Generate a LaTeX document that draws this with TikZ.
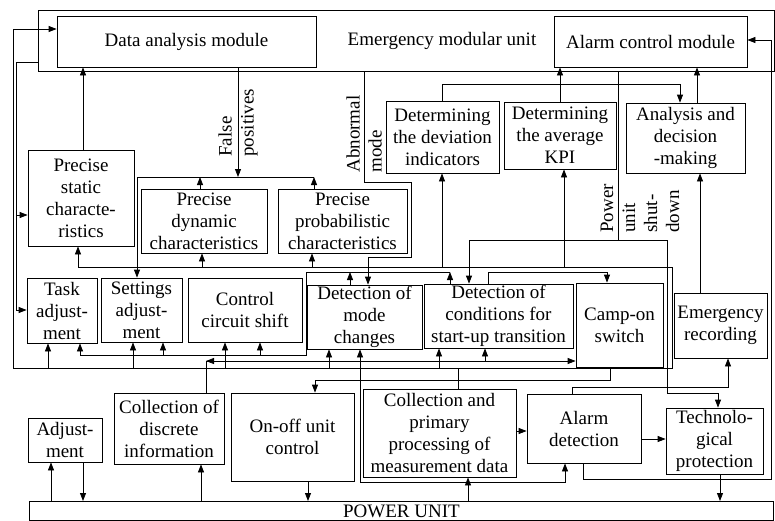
\documentclass[tikz,border=0pt]{standalone}
\usepackage{fontspec}
\setmainfont{Liberation Serif}
\usetikzlibrary{arrows.meta}

\tikzset{
	blk/.style={draw, align=center, inner sep=1pt, font=\fontsize{19}{22}\selectfont},
	txt/.style={inner sep=0pt, font=\fontsize{19}{22}\selectfont},
	rlbl/.style={txt, align=left, rotate=90, anchor=west},
	arr/.style={-{Triangle[length=8pt,width=6pt]}},
}

\begin{document}
\begin{tikzpicture}[x=1pt, y=-1pt, line width=0.8pt]
	\useasboundingbox (0,0) rectangle (775,520);
	\clip (0,0) rectangle (775,520);
	
	% emergency modular unit
	\node[draw, inner sep=0pt, minimum width=736, minimum height=61, anchor=north west] (emu) at (38,10) {};
	\node[blk, minimum width=259, minimum height=51] (dam) at (186.5,41.5) {Data analysis module};
	\node[txt] (emulbl) at (442,41) {Emergency modular unit};
	\node[blk, minimum width=193, minimum height=51] (acm) at (650.5,41.5) {Alarm control module};
	
	\node[blk, minimum width=113, minimum height=72] (dev) at (442.5,137) {Determining\\the deviation\\indicators};
	\node[blk, minimum width=112, minimum height=67] (kpi) at (560,135.5) {Determining\\the average\\KPI};
	\node[blk, minimum width=119, minimum height=70] (adm) at (685.5,138) {Analysis and\\decision\\-making};
	
	\node[blk, minimum width=106, minimum height=96] (stat) at (81,198) {Precise\\static\\characte-\\ristics};
	\node[blk, minimum width=126, minimum height=64] (dyn) at (204,221) {Precise\\dynamic\\characteristics};
	\node[blk, minimum width=129, minimum height=64] (prob) at (342.5,221) {Precise\\probabilistic\\characteristics};
	
	\node[blk, minimum width=70, minimum height=65] (task) at (62,310.5) {Task\\adjust-\\ment};
	\node[blk, minimum width=81, minimum height=64] (sett) at (141.5,310) {Settings\\adjust-\\ment};
	\node[blk, minimum width=114, minimum height=64] (ccs) at (245,310) {Control\\circuit shift};
	\node[blk, minimum width=115, minimum height=64] (mode) at (364.5,317) {Detection of\\mode\\changes};
	\node[blk, minimum width=149, minimum height=64] (start) at (498.5,316) {Detection of\\conditions for\\start-up transition};
	\node[blk, minimum width=87, minimum height=84] (camp) at (619.5,325) {Camp-on\\switch};
	\node[blk, minimum width=93, minimum height=65] (erec) at (720.5,325.5) {Emergency\\recording};
	
	% lower row
	\node[blk, minimum width=74, minimum height=44] (adj) at (65,440) {Adjust-\\ment};
	\node[blk, minimum width=110, minimum height=71] (disc) at (169,428.5) {Collection of\\discrete\\information};
	\node[blk, minimum width=123, minimum height=88] (onoff) at (292.5,437) {On-off unit\\control};
	\node[blk, minimum width=153, minimum height=88] (coll) at (439.5,433) {Collection and\\primary\\processing of\\measurement data};
	\node[blk, minimum width=114, minimum height=69] (alarm) at (584,428.5) {Alarm\\detection};
	\node[blk, minimum width=97, minimum height=66] (tech) at (714.5,441) {Technolo-\\gical\\protection};
	\node[blk, minimum width=744, minimum height=19, anchor=north west] (pu) at (29,501) {POWER UNIT};
	
	% rotated labels
	\node[rlbl] (fp) at (238,157) {False\\positives};
	\node[rlbl] (am) at (364,173) {Abnormal\\mode};
	\node[rlbl] (pus) at (640,233) {Power\\unit\\shut-\\down};
	
	% measurement data bus
	\coordinate (busL) at (13,368);
	\coordinate (busR) at (672,368);
	\coordinate (busT) at (672,267);
	\draw[arr] (busL) |- (dam.west |- 0,29);
	\draw (busL) -- (busR) -- (busT) -- (78,267);
	\draw (coll.north -| 458,0) -- (458,368);
	\foreach \x/\n in {48/task,133/sett,225/ccs,329/mode,439/start}
		\draw[arr] (\x,368) -- (\x,0 |- \n.south);
	\foreach \x/\n in {78/stat,202/dyn,312/prob,442/dev,564/kpi}
		\draw[arr] (\x,267) -- (\x,0 |- \n.south);
	
	\draw[arr] (emu.west |- 0,62) -| (16,310) -- (task.west |- 0,310);
	\draw[arr] (16,215) -- (stat.west |- 0,215);
	\draw[arr] (stat.north -| 83,0) -- (83,0 |- dam.south);
	
	% false positives
	\draw[arr] (dam.south -| 238,0) -- (238,177);
	\draw[arr] (314,177) -- (137,177) -- (137,0 |- sett.north);
	\draw[arr] (dyn.north -| 200,0) -- (200,177);
	\draw[arr] (prob.north -| 314,0) -- (314,177);
	
	\draw[arr] (dev.north) |- (680,84) -- (680,0 |- adm.north);
	\draw[arr] (kpi.north) -- (kpi.north |- acm.south);
	\draw[arr] (adm.north -| 697,0) -- (697,0 |- acm.south);
	\draw[arr] (erec.north -| 700,0) -- (700,0 |- adm.south);
	
	% abnormal mode, shut-down
	\draw[arr] (emu.south -| 364,0) |- (411,182) |- (368,257) -- (368,0 |- mode.north);
	\draw (emu.south -| 618,0) -- (618,240);
	\draw[arr] (618,240) -| (469,0 |- start.north);
	\draw[arr] (469,240) -| (667,393) -| (tech.north -| 718,0);
	
	% control commands
	\draw[arr] (450,272) -| (306,355) -| (80,0 |- task.south);
	\draw[arr] (mode.north -| 350,0) -- (350,272);
	\draw[arr] (start.north -| 450,0) -- (450,272);
	\draw[arr] (163,355) -- (163,0 |- sett.south);
	\draw[arr] (260,355) -- (260,0 |- ccs.south);
	\draw[arr] (start.north -| 488,0) |- (607,272) -- (607,0 |- camp.north);
	
	\draw[arr] (disc.north -| 206,0) |- (camp.west |- 0,361);
	\draw[arr] (216,361) -- (206,361);
	\draw[arr] (485,361) -- (485,0 |- start.south);
	\draw[arr] (camp.south -| 610,0) |- (315,380) -- (315,0 |- onoff.north);
	
	% lower connections
	\draw[arr] (pu.north -| 468,0) -- (468,0 |- coll.south);
	\draw[arr] (468,482) -| (360,0 |- mode.south);
	\draw[arr] (468,482) -| (565,0 |- alarm.south);
	\draw[arr] (coll.east |- 0,431) -- (alarm.west |- 0,431);
	\draw[arr] (alarm.east |- 0,439) -- (tech.west |- 0,439);
	\draw[arr] (alarm.north -| 572,0) |- (728,387) -- (728,0 |- erec.south);
	\draw[arr] (alarm.south -| 583,0) |- (771,479) |- (acm.east |- 0,40);
	\draw[arr] (tech.south -| 720,0) -- (720,0 |- pu.north);
	\draw[arr] (pu.north -| 51,0) -- (51,0 |- adj.south);
	\draw[arr] (adj.south -| 83,0) -- (83,0 |- pu.north);
	\draw[arr] (pu.north -| 201,0) -- (201,0 |- disc.south);
	\draw[arr] (onoff.south -| 308,0) -- (308,0 |- pu.north);
\end{tikzpicture}
\end{document}
